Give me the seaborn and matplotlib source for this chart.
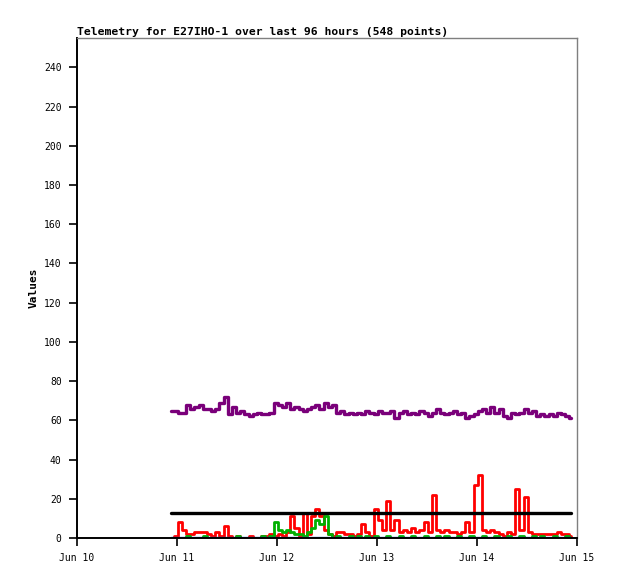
import matplotlib
matplotlib.use("Agg")
import matplotlib.pyplot as plt
import matplotlib.dates as mdates
import seaborn as sns
import pandas as pd
import numpy as np

title = "Telemetry for E27IHO-1 over last 96 hours (548 points)"
ylabel = "Values"
start_time = "2024-06-10 22:40"
x_limits = ["2024-06-10", "2024-06-15"]
y_ticks = list(range(0, 241, 20))

purple = [65, 65, 64, 64, 68, 66, 67, 68, 66, 66, 65, 66, 69, 72, 63, 67, 64, 65, 63, 62,
          63, 64, 63, 63, 64, 69, 68, 67, 69, 66, 67, 66, 65, 66, 67, 68, 66, 69, 67, 68,
          64, 65, 63, 64, 63, 64, 63, 65, 64, 63, 65, 64, 64, 65, 61, 64, 65, 63, 64, 63,
          65, 64, 62, 64, 66, 64, 63, 64, 65, 63, 64, 61, 62, 63, 65, 66, 64, 67, 64, 66,
          62, 61, 64, 63, 64, 66, 64, 65, 62, 63, 62, 63, 62, 64, 63, 62, 61]
red = [0, 1, 8, 4, 2, 2, 3, 3, 3, 2, 1, 3, 1, 6, 1, 0, 1, 0, 0, 1,
       0, 0, 1, 1, 2, 1, 2, 1, 3, 11, 5, 1, 13, 2, 11, 15, 11, 4, 2, 1,
       3, 3, 2, 2, 1, 2, 7, 3, 1, 15, 9, 4, 19, 4, 9, 3, 4, 3, 5, 3,
       4, 8, 3, 22, 4, 3, 4, 3, 3, 2, 3, 8, 3, 27, 32, 4, 3, 4, 3, 2,
       1, 3, 2, 25, 4, 21, 3, 2, 2, 2, 2, 2, 2, 3, 2, 2, 1]
green = [0, 0, 0, 0, 1, 0, 0, 0, 1, 0, 0, 0, 0, 0, 0, 0, 1, 0, 0, 0,
         0, 0, 1, 0, 1, 8, 4, 3, 4, 3, 2, 2, 1, 3, 5, 9, 7, 11, 2, 0,
         1, 0, 0, 1, 0, 1, 0, 1, 0, 1, 0, 0, 1, 0, 0, 1, 0, 0, 1, 0,
         0, 1, 0, 0, 1, 0, 1, 0, 0, 1, 0, 0, 1, 0, 0, 1, 0, 0, 1, 0,
         0, 1, 0, 0, 1, 0, 0, 1, 0, 1, 0, 0, 1, 0, 0, 1, 0]
threshold = [13] * len(purple)
zero = [0] * len(purple)

times = pd.date_range(start_time, periods=len(purple), freq="h")
df = pd.DataFrame({"time": times, "purple": purple, "red": red, "green": green,
                   "threshold": threshold, "zero": zero})

sns.set_style("white")
plt.rcParams["font.family"] = ["DejaVu Sans Mono"]
plt.rcParams["text.color"] = "black"
plt.rcParams["axes.labelcolor"] = "black"
plt.rcParams["xtick.color"] = "black"
plt.rcParams["ytick.color"] = "black"

fig = plt.figure(figsize=(6.18, 5.79), dpi=100)
ax = fig.add_axes([77/618, 41/579, 500/618, 500/579])

series = [("red", "#ff0000", 2.0), ("green", "#00b000", 2.0), ("threshold", "#000000", 2.4),
          ("purple", "#7a007a", 2.4), ("zero", "#1a66cc", 2.4)]
for col, color, lw in series:
    sns.lineplot(data=df, x="time", y=col, color=color, linewidth=lw, ax=ax,
                 drawstyle="steps-mid")

ax.set_xlim(pd.Timestamp(x_limits[0]), pd.Timestamp(x_limits[1]))
ax.set_ylim(0, 255)
ax.set_yticks(y_ticks)
ax.xaxis.set_major_locator(mdates.DayLocator())
ax.xaxis.set_major_formatter(mdates.DateFormatter("%b %d"))

for s in ["left", "bottom"]:
    ax.spines[s].set_color("black")
    ax.spines[s].set_linewidth(1.4)
for s in ["top", "right"]:
    ax.spines[s].set_color("#7f7f7f")
    ax.spines[s].set_linewidth(1.0)

ax.tick_params(axis="both", direction="out", length=6, width=1.2, color="black",
               labelcolor="black", labelsize=7, pad=5, left=True, bottom=True)
ax.set_xlabel("")
ax.set_ylabel(ylabel, fontsize=8, fontweight="bold", labelpad=4, color="black")
ax.set_title(title, loc="left", fontsize=8.2, fontweight="bold", pad=2, color="black")
ax.grid(False)

fig.savefig("out.png", dpi=100)
